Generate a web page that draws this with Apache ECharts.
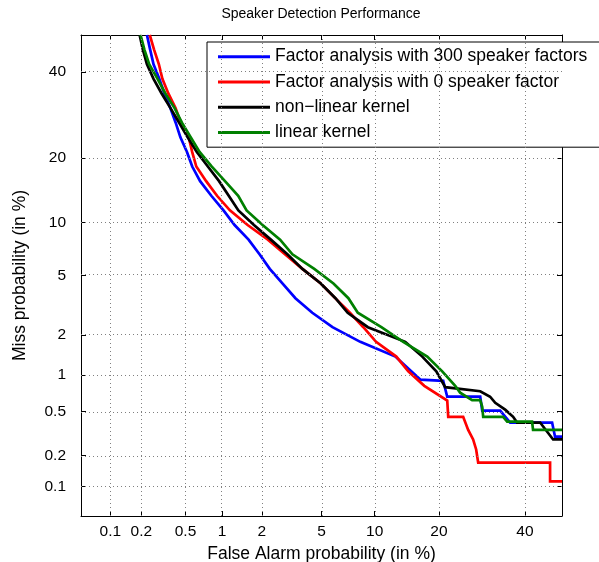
<!DOCTYPE html>
<html><head><meta charset="utf-8">
<script src="https://cdn.jsdelivr.net/npm/echarts@6/dist/echarts.min.js"></script>
<style>html,body{margin:0;padding:0;background:#fff}#c{width:599px;height:562px}</style>
</head><body><div id="c"></div>
<script>
// ---- data (percent values) ----
const tickValues = [0.1, 0.2, 0.5, 1, 2, 5, 10, 20, 40];
const tickLabels = ['0.1', '0.2', '0.5', '1', '2', '5', '10', '20', '40'];
const axisRangePct = [0.05, 50];
const seriesNames = ['Factor analysis with 300 speaker factors', 'Factor analysis with 0 speaker factor', 'non\u2212linear kernel', 'linear kernel'];

const blueFA   = [0.226,0.242,0.260,0.294,0.326,0.369,0.411,0.452,0.515,0.571,0.665,0.822,1.029,1.255,1.601,1.926,2.28,2.79,3.41,4.38,5.82,8.38,12.72,15.12,16.61,20.82,21.62,28.79,29.26,33.62,36.14,47.3,48.1,50];
const blueMiss = [50,46.02,42.07,38.21,34.46,30.85,27.43,24.20,21.19,18.41,15.87,13.57,11.51,9.68,8.08,6.68,5.48,4.46,3.59,2.87,2.28,1.79,1.39,1.07,0.92,0.90,0.667,0.667,0.508,0.508,0.401,0.401,0.30,0.30];

const redFA   = [0.240,0.263,0.291,0.313,0.354,0.410,0.455,0.533,0.570,0.618,0.746,0.914,1.155,1.575,2.211,2.902,3.788,4.947,6.036,7.34,8.71,10.17,12.85,14.65,17.31,21.62,21.82,24.95,26.05,27.16,27.85,28.32,46.75,46.75,50];
const redMiss = [50,46.02,42.07,38.21,34.46,30.85,27.43,24.20,21.19,18.41,15.87,13.57,11.51,9.68,8.08,6.68,5.48,4.46,3.59,2.87,2.28,1.79,1.39,1.07,0.82,0.62,0.45,0.45,0.345,0.283,0.229,0.172,0.172,0.113,0.113];

const blackFA   = [0.193,0.207,0.226,0.260,0.308,0.370,0.441,0.522,0.624,0.770,0.949,1.131,1.342,1.754,2.320,3.015,3.788,4.947,6.06,7.13,9.21,14.18,16.96,19.49,21.21,28.79,31.15,32.39,34.87,36.91,37.93,44.05,47.57,50];
const blackMiss = [50,46.02,42.07,38.21,34.46,30.85,27.43,24.20,21.19,18.41,15.87,13.57,11.51,9.68,8.08,6.68,5.48,4.46,3.59,2.87,2.28,1.79,1.39,1.07,0.80,0.74,0.667,0.593,0.519,0.45,0.401,0.401,0.283,0.283];

const greenFA   = [0.197,0.214,0.237,0.283,0.333,0.402,0.466,0.554,0.658,0.830,1.057,1.338,1.547,2.027,2.689,3.257,4.506,5.897,7.197,8.12,10.83,13.87,17.83,20.63,23.25,24.29,26.94,28.79,29.26,29.49,34.36,35.38,41.89,42.15,50];
const greenMiss = [50,46.02,42.07,38.21,34.46,30.85,27.43,24.20,21.19,18.41,15.87,13.57,11.51,9.68,8.08,6.68,5.48,4.46,3.59,2.87,2.28,1.79,1.39,1.07,0.82,0.721,0.625,0.625,0.550,0.450,0.450,0.409,0.409,0.345,0.345];

// ---- normal deviate (probit) scale ----
function probit(p){
  const a=[-3.969683028665376e+01,2.209460984245205e+02,-2.759285104469687e+02,1.383577518672690e+02,-3.066479806614716e+01,2.506628277459239e+00];
  const b=[-5.447609879822406e+01,1.615858368580409e+02,-1.556989798598866e+02,6.680131188771972e+01,-1.328068155288572e+01];
  const c=[-7.784894002430293e-03,-3.223964580411365e-01,-2.400758277161838e+00,-2.549732539343734e+00,4.374664141464968e+00,2.938163982698783e+00];
  const d=[7.784695709041462e-03,3.224671290700398e-01,2.445134137142996e+00,3.754408661907416e+00];
  const pl=0.02425, ph=1-pl; let q,r;
  if(p<pl){q=Math.sqrt(-2*Math.log(p));return (((((c[0]*q+c[1])*q+c[2])*q+c[3])*q+c[4])*q+c[5])/((((d[0]*q+d[1])*q+d[2])*q+d[3])*q+1);}
  if(p<=ph){q=p-0.5;r=q*q;return (((((a[0]*r+a[1])*r+a[2])*r+a[3])*r+a[4])*r+a[5])*q/(((((b[0]*r+b[1])*r+b[2])*r+b[3])*r+b[4])*r+1);}
  q=Math.sqrt(-2*Math.log(1-p));return -(((((c[0]*q+c[1])*q+c[2])*q+c[3])*q+c[4])*q+c[5])/((((d[0]*q+d[1])*q+d[2])*q+d[3])*q+1);
}
const pr = v => probit(v/100);
const axMin = pr(axisRangePct[0]), axMax = pr(axisRangePct[1]);
const tickPos = tickValues.map(pr);
function fmt(val){ let best=0; for(let i=1;i<tickPos.length;i++){ if(Math.abs(tickPos[i]-val)<Math.abs(tickPos[best]-val)) best=i; } return tickLabels[best]; }
const toPts = (fa, miss) => fa.map((v,i)=>[pr(v), pr(miss[i])]);

const FONT = 'Liberation Sans, Arial, Helvetica, sans-serif';
const colors = ['#0000ff','#ff0000','#000000','#008000'];
const curves = [[blueFA,blueMiss],[redFA,redMiss],[blackFA,blackMiss],[greenFA,greenMiss]];

function mkAxis(pos, isMain, name){
  return {
    type:'value', min:axMin, max:axMax, position:pos,
    axisLine:{show:true,onZero:false,lineStyle:{color:'#000',width:1}},
    axisTick:{show:true,inside:true,length:5,customValues:tickPos,lineStyle:{color:'#000',width:1}},
    axisLabel:{show:isMain,customValues:tickPos,formatter:fmt,color:'#000',fontSize:15.5,fontFamily:FONT,margin:(pos==='bottom'?8:15)},
    splitLine:{show:false},
    name: isMain ? name : '',
    nameLocation:'middle',
    nameGap:(pos==='bottom'?29:52),
    nameTextStyle:{color:'#000',fontSize:17.5,fontFamily:FONT}
  };
}

const chart = echarts.init(document.getElementById('c'), null, {renderer:'canvas'});
chart.setOption({
  animation:false,
  backgroundColor:'#fff',
  title:{text:'Speaker Detection Performance',left:316,top:2,textAlign:'center',
    textStyle:{fontSize:14,fontWeight:'normal',color:'#000',fontFamily:FONT}},
  grid:{left:81,right:37,top:35,bottom:46,containLabel:false,outerBoundsMode:'none'},
  xAxis:[mkAxis('bottom',true,'False Alarm probability (in %)'), mkAxis('top',false,'')],
  yAxis:[mkAxis('left',true,'Miss probability (in %)'), mkAxis('right',false,'')],
  legend:{
    orient:'vertical',left:207,top:42,icon:'rect',itemWidth:52,itemHeight:3,itemGap:0,
    padding:[2,40,2,11],backgroundColor:'#fff',borderColor:'#000',borderWidth:1,borderRadius:0,
    textStyle:{fontSize:17.5,color:'#000',fontFamily:FONT,lineHeight:25.3},
    data:seriesNames
  },
  series:[
    {type:'line',name:'grid',data:[],silent:true,
     markLine:{silent:true,symbol:['none','none'],label:{show:false},animation:false,
       lineStyle:{color:'#808080',type:[1,3],width:1},
       emphasis:{disabled:true},
       data:[...tickPos.map(v=>({xAxis:v})), ...tickPos.map(v=>({yAxis:v}))]}}
  ].concat(curves.map((cv,i)=>({
    type:'line',name:seriesNames[i],data:toPts(cv[0],cv[1]),
    showSymbol:false,symbol:'none',clip:true,
    lineStyle:{width:2.7,color:colors[i],join:'miter'},itemStyle:{color:colors[i]},
    emphasis:{disabled:true}
  })))
});
</script></body></html>
